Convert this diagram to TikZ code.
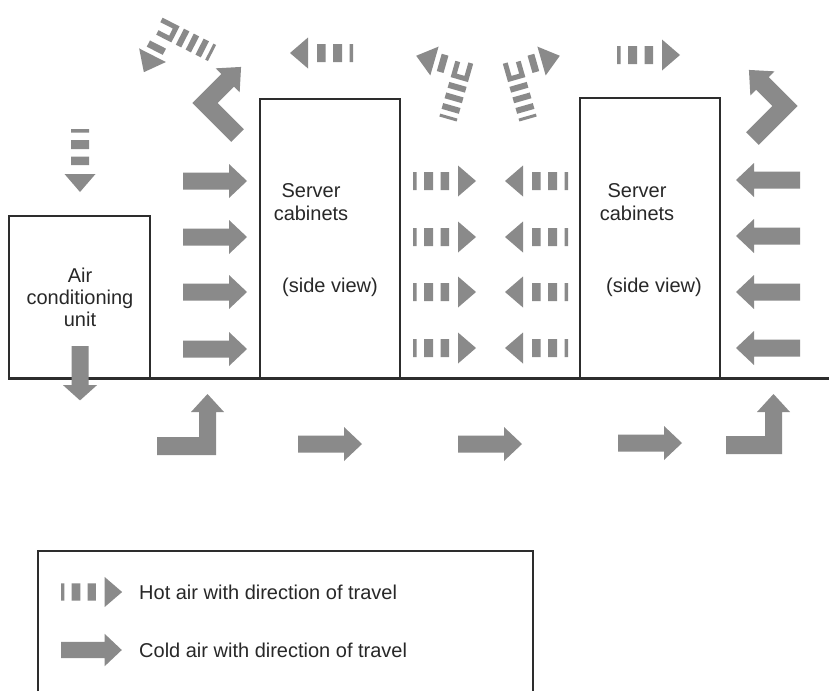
\documentclass[tikz,border=0pt]{standalone}
\usepackage{fontspec}
\setmainfont{Liberation Sans}
\definecolor{airgray}{RGB}{138,138,138}
\definecolor{edgecol}{RGB}{45,45,45}
\definecolor{txtcol}{RGB}{40,40,40}
\tikzset{
  coldarrow/.pic={\fill[airgray] (0,-8.5) -- (46,-8.5) -- (46,-17) -- (64,0) -- (46,17) -- (46,8.5) -- (0,8.5) -- cycle;},
  hotarrow/.pic={\fill[airgray] (0,-9) rectangle (3.5,9) (11,-9) rectangle (20,9) (27.5,-9) rectangle (36,9);
                 \fill[airgray] (45,-15.5) -- (63,0) -- (45,15.5) -- cycle;},
  hotbend/.pic={\fill[airgray] (-9,0) rectangle (9,3) (-9,8) rectangle (9,14) (-9,19) rectangle (9,25) (-9,30) rectangle (9,36)
                 (-9,41) rectangle (9,46) (-9,46) rectangle (-4,58) (4,46) rectangle (9,60)
                 (-24,43) rectangle (-17,61);
                \fill[airgray] (-29,37) -- (-48,52) -- (-29,67) -- cycle;},
  chevron/.pic={\fill[airgray] (-9,-46) -- (-9,9) -- (32,9) -- (32,17) -- (51,0) -- (32,-17) -- (32,-9) -- (9,-9) -- (9,-46) -- cycle;},
  box/.style={draw=edgecol, line width=1.5},
  lbl/.style={font=\fontsize{20}{23}\selectfont, text=txtcol, inner sep=0, anchor=base, align=center},
  lgd/.style={font=\fontsize{20}{23}\selectfont, text=txtcol, inner sep=0, anchor=base west}
}
\begin{document}
\begin{tikzpicture}[x=1pt,y=1pt]
\useasboundingbox (0,0) rectangle (829,-691);
\fill[white] (0,0) rectangle (829,-691);
% boxes
\draw[box] (9,-378) |- (150,-216) -- (150,-378);
\draw[box] (260,-378) |- (400,-99) -- (400,-378);
\draw[box] (580,-378) |- (720,-98) -- (720,-378);
\draw[edgecol, line width=3] (8,-378) -- (829,-378);
% texts
\node[lbl] (ac1) at (80,-282) {Air};
\node[lbl] (ac2) at (80,-304) {conditioning};
\node[lbl] (ac3) at (80,-326) {unit};
\node[lbl] (s1a) at (311,-197) {Server};
\node[lbl] (s1b) at (311,-220) {cabinets};
\node[lbl] (s1c) at (330,-292) {(side view)};
\node[lbl] (s2a) at (637,-197) {Server};
\node[lbl] (s2b) at (637,-220) {cabinets};
\node[lbl] (s2c) at (654,-292) {(side view)};
% cold arrows side
\foreach \yy in {181,237,292,349} \pic at (183,-\yy) {coldarrow};
\foreach \yy in {180,236,292,348} \pic[rotate=180] at (800,-\yy) {coldarrow};
% hot arrows middle
\foreach \yy in {181,237,292,348} \pic at (413,-\yy) {hotarrow};
\foreach \yy in {181,237,292,348} \pic[rotate=180] at (568,-\yy) {hotarrow};
% top hot arrows
\pic[rotate=180] at (353,-53) {hotarrow};
\pic at (617,-55) {hotarrow};
\pic[rotate=-90] at (80,-129) {hotarrow};
\pic[rotate=-16] at (448,-119) {hotbend};
\pic[rotate=16, xscale=-1] at (528,-119) {hotbend};
\pic[rotate=63] at (212,-53) {hotbend};
% top chevrons
\pic[rotate=45] at (205,-103) {chevron};
\pic[xscale=-1, rotate=45] at (785,-106) {chevron};
% AC down arrow
\pic[rotate=-90, xscale=0.85] at (80,-346) {coldarrow};
% bottom arrows
\pic at (298,-444) {coldarrow};
\pic at (458,-444) {coldarrow};
\pic at (618,-443) {coldarrow};
\fill[airgray] (157,-437) -- (199,-437) -- (199,-412) -- (191,-412) -- (207.5,-394) -- (224,-412) -- (216,-412) -- (216,-455) -- (157,-455) -- cycle;
\fill[airgray] (726,-436) -- (765,-436) -- (765,-412) -- (757,-412) -- (773.5,-394) -- (790,-412) -- (782,-412) -- (782,-454) -- (726,-454) -- cycle;
% legend
\draw[box] (38,-691) -- (38,-551) -- (533,-551) -- (533,-691);
\pic[scale=0.97] at (61,-592) {hotarrow};
\pic[scale=0.95] at (61,-650) {coldarrow};
\node[lgd] (l1) at (139,-599) {Hot air with direction of travel};
\node[lgd] (l2) at (139,-657) {Cold air with direction of travel};
\end{tikzpicture}
\end{document}
